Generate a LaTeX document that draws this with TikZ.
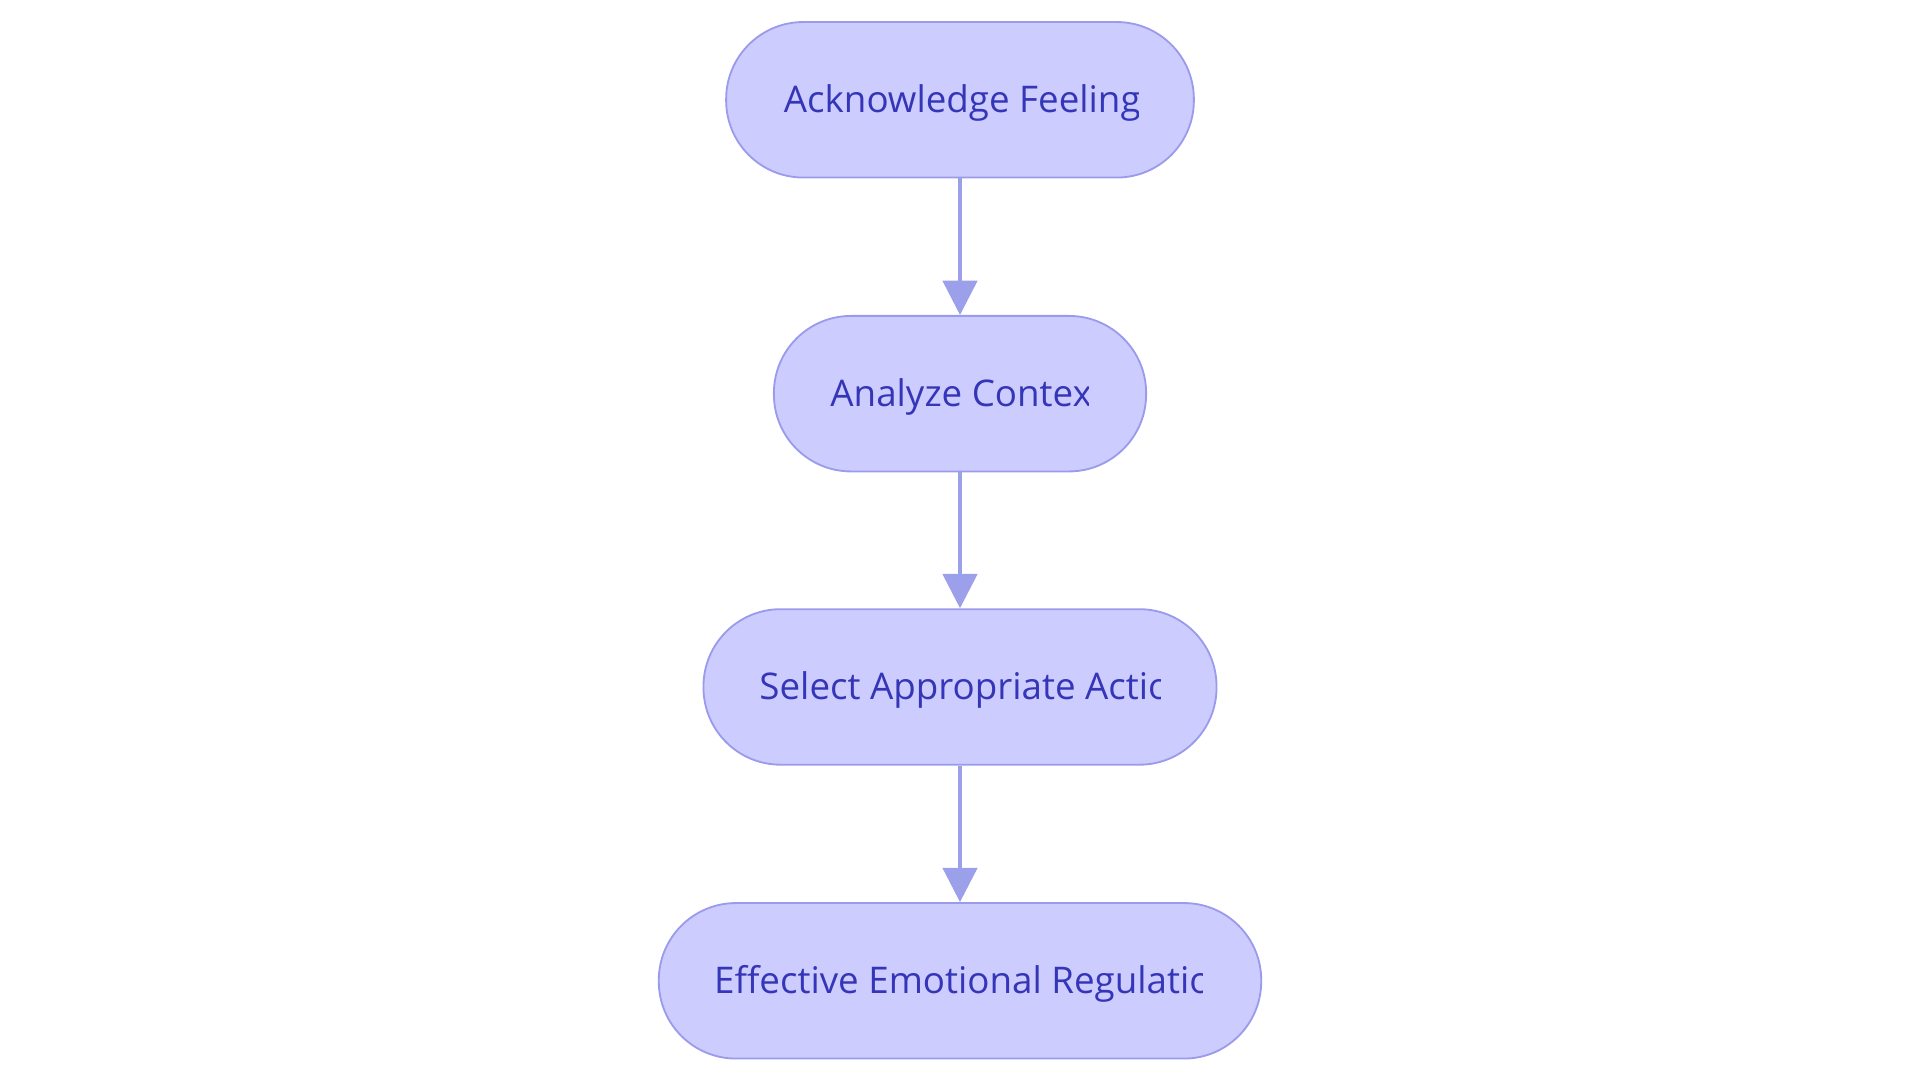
\documentclass[tikz,border=0pt]{standalone}
\usepackage{fontspec}
\setmainfont{Open Sans}
\usetikzlibrary{arrows.meta}
\definecolor{nfill}{HTML}{CCCCFF}
\definecolor{nline}{HTML}{9B9BEB}
\definecolor{ntext}{HTML}{3535B8}
\definecolor{arr}{HTML}{9CA0EA}
\tikzset{
 box/.style={draw=nline,fill=nfill,line width=1.5pt,rounded corners=63pt,minimum height=127pt,inner sep=0pt},
 lbl/.style={anchor=base west,text=ntext,font=\fontsize{30}{36}\selectfont,inner sep=0pt},
 conn/.style={draw=arr,line width=3pt,-{Triangle[length=28pt,width=28pt]}}
}
\begin{document}
\begin{tikzpicture}[x=1pt,y=-1pt]
\useasboundingbox (0,0) rectangle (1568,882);
\node[box,minimum width=382pt] (n1) at (784,81.5) {};
\node[box,minimum width=304pt] (n2) at (784,321.5) {};
\node[box,minimum width=419pt] (n3) at (784,561) {};
\node[box,minimum width=492pt] (n4) at (784,801) {};
\begin{scope}\clip (640,40) rectangle (930,120);
\node[lbl] (t1) at (640,92) {Acknowledge Feelings};\end{scope}
\begin{scope}\clip (678,280) rectangle (889,360);
\node[lbl] (t2) at (678,332) {Analyze Context};\end{scope}
\begin{scope}\clip (620,520) rectangle (948,600);
\node[lbl] (t3) at (620,571.5) {Select Appropriate Action};\end{scope}
\begin{scope}\clip (583,760) rectangle (982,840);
\node[lbl] (t4) at (583,811.5) {Effective Emotional Regulation};\end{scope}
\draw[conn] (n1.south) -- (n2.north);
\draw[conn] (n2.south) -- (n3.north);
\draw[conn] (n3.south) -- (n4.north);
\end{tikzpicture}
\end{document}
